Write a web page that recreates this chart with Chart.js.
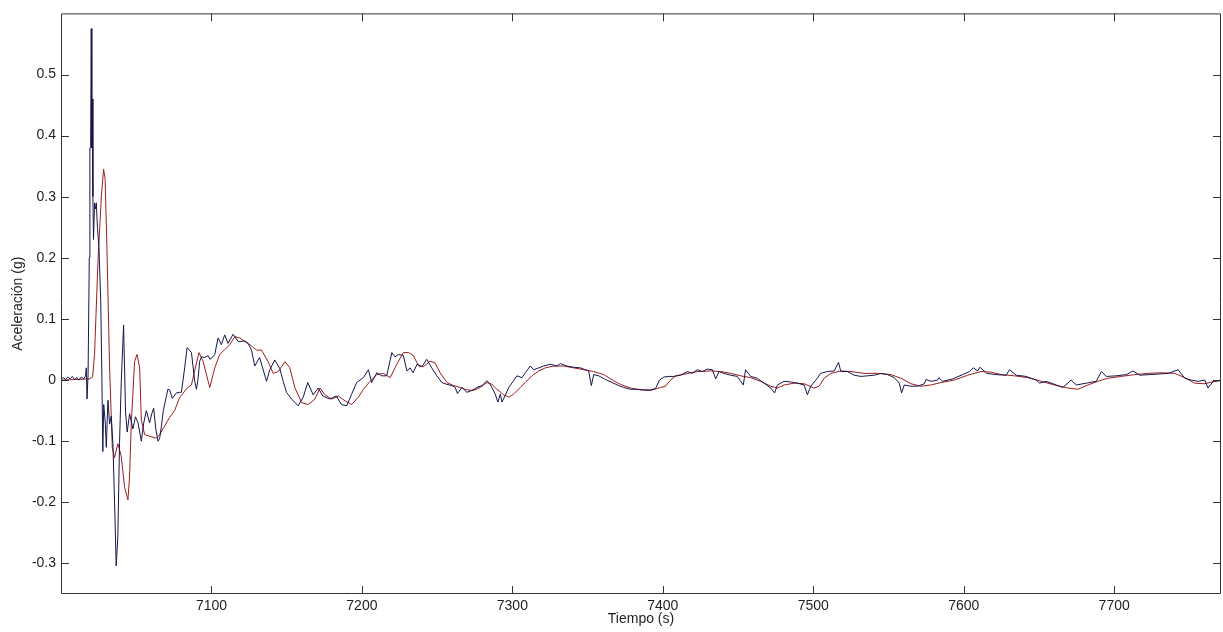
<!DOCTYPE html>
<html>
<head>
<meta charset="utf-8">
<script src="https://cdn.jsdelivr.net/npm/chart.js@4.4.1/dist/chart.umd.min.js"></script>
<style>
  html, body { margin: 0; padding: 0; background: #fff; }
  #wrap { width: 1223px; height: 632px; }
</style>
</head>
<body>
<div id="wrap"><canvas id="chart" width="1223" height="632"></canvas></div>
<script>
// axis setup
const xRange = [7000, 7771];
const yRange = [-0.35, 0.6];
const xTicks = [7100, 7200, 7300, 7400, 7500, 7600, 7700];
const yTicks = [-0.3, -0.2, -0.1, 0, 0.1, 0.2, 0.3, 0.4, 0.5];

// measured record (blue), [time s, acceleration g]
const measured = [
  [7000,0.002],[7001.5,0.004],[7003,0.001],[7004.5,0.005],[7006,0.002],[7007.5,0.006],[7009,0.001],
  [7010.5,0.004],[7012,0.0],[7013.5,0.005],[7015,0.002],[7016.3,0.007],[7016.8,0.02],[7017.3,-0.031],
  [7018,0.01],[7018.8,0.2],[7019.2,0.38],[7019.7,0.38],[7020.1,0.575],[7020.5,0.38],[7020.8,0.46],
  [7021.2,0.3],[7021.6,0.23],[7022.3,0.29],[7023,0.28],[7023.5,0.29],[7024.2,0.25],[7025.2,0.218],
  [7026.4,0.13],[7027.2,0.0],[7027.8,-0.117],[7028.4,-0.04],[7029.5,-0.072],[7030.1,-0.11],
  [7031.2,-0.033],[7032.3,-0.072],[7033.4,-0.059],[7034.5,-0.104],[7035.6,-0.2],[7036.7,-0.304],
  [7037.8,-0.255],[7038.9,-0.104],[7040,-0.006],[7041.6,0.09],[7042.9,-0.052],[7044,-0.085],
  [7045.6,-0.055],[7047.8,-0.08],[7049.5,-0.06],[7051.2,-0.07],[7053.4,-0.1],[7055,-0.07],
  [7056.7,-0.05],[7058.9,-0.07],[7060.3,-0.055],[7061.6,-0.046],[7063,-0.08],[7064.5,-0.1],
  [7065.6,-0.095],[7066.7,-0.076],[7068,-0.05],[7070,-0.027],[7071,-0.015],[7072.2,-0.016],
  [7074,-0.03],[7076.7,-0.021],[7079,-0.02],[7080,-0.02],[7082.2,0.02],[7083.8,0.053],[7085,0.05],
  [7086.7,0.045],[7088.9,-0.002],[7090,-0.015],[7091,0.0],[7092.2,0.031],[7093.4,0.038],
  [7095.5,0.037],[7097.8,0.04],[7099,0.034],[7101,0.038],[7102.2,0.042],[7104.4,0.069],
  [7106.6,0.058],[7108.8,0.074],[7111,0.06],[7114.4,0.075],[7117.8,0.063],[7122.2,0.064],
  [7124.4,0.06],[7126.6,0.049],[7128.8,0.023],[7132,0.037],[7136.6,-0.002],[7138.8,0.017],
  [7142.1,0.033],[7145.4,0.019],[7147.7,-0.002],[7149.9,-0.02],[7153.2,-0.031],[7157.6,-0.042],
  [7161,-0.028],[7164,-0.004],[7167.6,-0.024],[7171,-0.013],[7174,-0.026],[7178.7,-0.031],
  [7183,-0.026],[7186.4,-0.04],[7189.9,-0.042],[7193,-0.024],[7196.5,-0.004],[7201,0.004],
  [7204.3,0.017],[7206.5,-0.004],[7209.9,0.012],[7213.2,0.007],[7216.5,0.007],[7219.9,0.045],
  [7222,0.038],[7224.3,0.042],[7227.6,0.04],[7229.9,0.015],[7232,0.02],[7234,0.012],[7236.7,0.026],
  [7240,0.022],[7243.1,0.034],[7246.4,0.02],[7249.8,0.007],[7253.2,-0.004],[7256.5,-0.007],
  [7259.8,-0.009],[7262,-0.012],[7263.5,-0.022],[7266.5,-0.012],[7269.8,-0.02],[7273.1,-0.017],
  [7276.4,-0.012],[7279.8,-0.009],[7283.1,-0.001],[7285.3,-0.007],[7288.6,-0.023],[7290.4,-0.036],
  [7292,-0.023],[7293.1,-0.036],[7295.3,-0.025],[7297.6,-0.012],[7300.8,-0.001],[7303,0.007],
  [7306.4,0.004],[7308.6,0.012],[7311.9,0.023],[7314.2,0.017],[7317.5,0.02],[7320.8,0.023],
  [7325.2,0.026],[7329.7,0.023],[7331.9,0.027],[7336.3,0.023],[7340.7,0.021],[7345.2,0.02],
  [7348.5,0.017],[7350.7,0.015],[7352.5,-0.009],[7354.1,0.009],[7357.4,0.007],[7361.9,0.001],
  [7366.3,-0.004],[7370.7,-0.009],[7374,-0.012],[7378.5,-0.015],[7382.9,-0.015],[7387.4,-0.016],
  [7391.8,-0.016],[7395.1,-0.014],[7397.8,0.0],[7400.7,0.005],[7404,0.006],[7407.3,0.006],
  [7411.8,0.008],[7416.3,0.014],[7419.6,0.011],[7422.9,0.017],[7426.2,0.014],[7429.6,0.018],
  [7432.9,0.017],[7435.1,0.002],[7437.4,0.014],[7440.6,0.011],[7445,0.008],[7449.5,0.006],
  [7453.5,-0.008],[7455,0.017],[7458.4,0.006],[7462.8,0.003],[7467.3,-0.005],[7471.7,-0.013],
  [7474.3,-0.021],[7476.2,-0.008],[7480.6,-0.002],[7485,-0.003],[7489.5,-0.005],[7493.9,-0.008],
  [7496.1,-0.024],[7498.3,-0.01],[7501.7,0.0],[7505,0.011],[7509.4,0.014],[7513.9,0.015],
  [7516.8,0.029],[7518.3,0.014],[7522.7,0.014],[7527.2,0.008],[7531.6,0.006],[7536.1,0.007],
  [7540.5,0.008],[7545,0.011],[7549.4,0.009],[7553.8,0.004],[7557.2,-0.005],[7558.7,-0.021],
  [7560.5,-0.008],[7564.9,-0.01],[7569.3,-0.01],[7573.8,-0.006],[7574.9,0.001],[7578.2,-0.002],
  [7582.6,0.0],[7583.5,0.004],[7586,-0.002],[7592.7,0.002],[7599.3,0.009],[7603.8,0.014],
  [7606.4,0.02],[7609.3,0.015],[7610.8,0.021],[7615.3,0.011],[7621.5,0.009],[7628.2,0.008],
  [7630.4,0.017],[7634.9,0.008],[7641.5,0.006],[7648.2,0.0],[7650.4,-0.005],[7654.8,-0.002],
  [7661.5,-0.008],[7665.9,-0.012],[7671.4,0.0],[7674.8,-0.008],[7681.5,-0.005],[7688.1,-0.002],
  [7691.5,0.014],[7694.8,0.006],[7701.4,0.007],[7708.1,0.009],[7712.5,0.015],[7717,0.008],
  [7723.6,0.009],[7730,0.01],[7736,0.011],[7742.5,0.017],[7746.9,0.003],[7751.3,0.0],
  [7755.8,-0.002],[7760.2,0.0],[7762.4,-0.013],[7765.8,-0.002],[7769.1,-0.001],[7771,0.0]
];

// model response (red), [time s, acceleration g]
const simulated = [
  [7000,0.0],[7010,0.001],[7019,0.002],[7021,0.005],[7022.3,0.042],[7024.5,0.19],[7026.8,0.3],
  [7028.3,0.345],[7029.3,0.33],[7030.5,0.22],[7032.3,0.02],[7034.1,-0.11],[7035.6,-0.127],
  [7037.8,-0.104],[7040,-0.124],[7042.3,-0.176],[7044.5,-0.196],[7045.6,-0.157],[7046.7,-0.072],
  [7048.9,0.03],[7050.5,0.042],[7052.3,0.02],[7053.4,-0.066],[7055.6,-0.089],[7058.9,-0.092],
  [7063.4,-0.095],[7065.6,-0.089],[7068.9,-0.075],[7072.2,-0.061],[7075.5,-0.05],[7078.9,-0.028],
  [7081,-0.022],[7083.4,-0.014],[7086.7,-0.008],[7088.9,0.016],[7091.7,0.045],[7094.4,0.031],
  [7097.8,-0.002],[7098.9,-0.012],[7102.2,0.02],[7105.5,0.042],[7108.8,0.05],[7112.2,0.058],
  [7115.5,0.071],[7118.8,0.069],[7122.2,0.063],[7125.5,0.058],[7130,0.049],[7133.3,0.049],
  [7137.7,0.03],[7141,0.011],[7144.4,0.014],[7148.8,0.03],[7152.1,0.02],[7155.5,-0.013],
  [7160,-0.037],[7164.3,-0.04],[7168.8,-0.031],[7172.1,-0.013],[7175.4,-0.024],[7179.9,-0.031],
  [7184.3,-0.026],[7188.8,-0.034],[7193.2,-0.04],[7197.6,-0.028],[7201,-0.015],[7205.4,-0.002],
  [7209.9,0.009],[7214.3,0.011],[7218.8,0.004],[7223.2,0.026],[7227.6,0.045],[7231,0.045],
  [7234.2,0.04],[7237.7,0.023],[7240.9,0.022],[7245.3,0.031],[7248.6,0.028],[7252,0.012],
  [7256.5,-0.004],[7260.9,-0.009],[7265.3,-0.012],[7269.8,-0.016],[7274.2,-0.017],[7278.6,-0.012],
  [7283.1,-0.004],[7286.4,-0.007],[7289.7,-0.015],[7294.2,-0.024],[7297.5,-0.028],[7300.8,-0.023],
  [7305.3,-0.012],[7308.6,-0.004],[7313,0.007],[7317.5,0.015],[7321.9,0.02],[7327.5,0.023],
  [7334.1,0.023],[7340.7,0.02],[7347.4,0.017],[7354,0.014],[7360.7,0.009],[7367.3,-0.001],
  [7371.8,-0.007],[7378.5,-0.013],[7385.2,-0.016],[7391.8,-0.017],[7398.5,-0.012],[7401.8,-0.01],
  [7405.1,0.0],[7408.5,0.007],[7412.9,0.009],[7418.5,0.012],[7422.9,0.014],[7431.8,0.015],
  [7438.5,0.014],[7445,0.011],[7451.7,0.007],[7458.4,0.004],[7465,-0.002],[7471.7,-0.01],
  [7476.2,-0.013],[7480.6,-0.008],[7487.3,-0.005],[7493.9,-0.006],[7500.6,-0.013],[7503.9,-0.01],
  [7507.2,0.003],[7511.7,0.011],[7518.3,0.015],[7525,0.014],[7533.9,0.011],[7542.8,0.011],
  [7551.6,0.009],[7558.3,0.003],[7564.9,-0.006],[7571.6,-0.01],[7578.2,-0.008],[7584.9,-0.004],
  [7593.7,0.0],[7602.6,0.008],[7611.5,0.014],[7618.2,0.013],[7624.8,0.009],[7633.7,0.007],
  [7642.6,0.004],[7651.5,-0.002],[7660.3,-0.008],[7669.2,-0.013],[7675.9,-0.015],[7682.5,-0.008],
  [7689.2,-0.002],[7695.8,0.003],[7704.7,0.006],[7713.6,0.009],[7722.5,0.011],[7731.3,0.012],
  [7740.2,0.011],[7746.9,0.004],[7753.5,-0.005],[7760.2,-0.006],[7766.8,-0.002],[7771,-0.001]
];

const textFont = { family: "'Liberation Sans', Arial, sans-serif", size: 14 };
const textColor = "#1e1e1e";

// box round the plot with inward ticks on all four sides, like MATLAB axes
const boxPlugin = {
    id: "matlabBox",
    afterDatasetsDraw(chart) {
        const { ctx, chartArea: a, scales } = chart;
        const len = 8;
        ctx.save();
        ctx.strokeStyle = "#333";
        ctx.lineWidth = 1;
        ctx.beginPath();
        ctx.rect(a.left + 0.5, a.top + 0.5, a.right - a.left - 1, a.bottom - a.top - 1);
        xTicks.forEach(v => {
            const px = Math.round(scales.x.getPixelForValue(v)) + 0.5;
            ctx.moveTo(px, a.bottom); ctx.lineTo(px, a.bottom - len);
            ctx.moveTo(px, a.top); ctx.lineTo(px, a.top + len);
        });
        yTicks.forEach(v => {
            const py = Math.round(scales.y.getPixelForValue(v)) + 0.5;
            ctx.moveTo(a.left, py); ctx.lineTo(a.left + len, py);
            ctx.moveTo(a.right, py); ctx.lineTo(a.right - len, py);
        });
        ctx.stroke();
        ctx.restore();
    }
};

const toPoints = arr => arr.map(p => ({ x: p[0], y: p[1] }));

new Chart(document.getElementById("chart").getContext("2d"), {
    type: "line",
    data: {
        datasets: [
            {
                label: "Registro",
                data: toPoints(measured),
                borderColor: "#16164d",
                borderWidth: 1,
                pointRadius: 0,
                tension: 0,
                order: 0
            },
            {
                label: "Modelo",
                data: toPoints(simulated),
                borderColor: "#9e1d1d",
                borderWidth: 1,
                pointRadius: 0,
                tension: 0,
                order: 1
            }
        ]
    },
    options: {
        responsive: false,
        animation: false,
        devicePixelRatio: 1,
        layout: { padding: { top: 11, right: 2, left: 0, bottom: 0 } },
        plugins: { legend: { display: false }, tooltip: { enabled: false } },
        scales: {
            x: {
                type: "linear",
                min: xRange[0],
                max: xRange[1],
                grid: { display: false, drawTicks: false },
                border: { display: false },
                afterBuildTicks: s => { s.ticks = xTicks.map(v => ({ value: v })); },
                afterFit: s => { s.height = 38; },
                ticks: {
                    font: textFont, color: textColor, padding: 4,
                    maxRotation: 0, autoSkip: false,
                    callback: v => String(v)
                },
                title: {
                    display: true, text: "Tiempo (s)", font: textFont, color: textColor,
                    padding: { top: 0, bottom: 4 }
                }
            },
            y: {
                type: "linear",
                min: yRange[0],
                max: yRange[1],
                grid: { display: false, drawTicks: false },
                border: { display: false },
                afterBuildTicks: s => { s.ticks = yTicks.map(v => ({ value: v })); },
                afterFit: s => { s.width = 61; },
                ticks: {
                    font: textFont, color: textColor, padding: 5,
                    callback: v => String(Math.round(v * 10) / 10)
                },
                title: {
                    display: true, text: "Aceleración (g)", font: textFont, color: textColor,
                    padding: { top: 10, bottom: 0 }
                }
            }
        }
    },
    plugins: [boxPlugin]
});
</script>
</body>
</html>
